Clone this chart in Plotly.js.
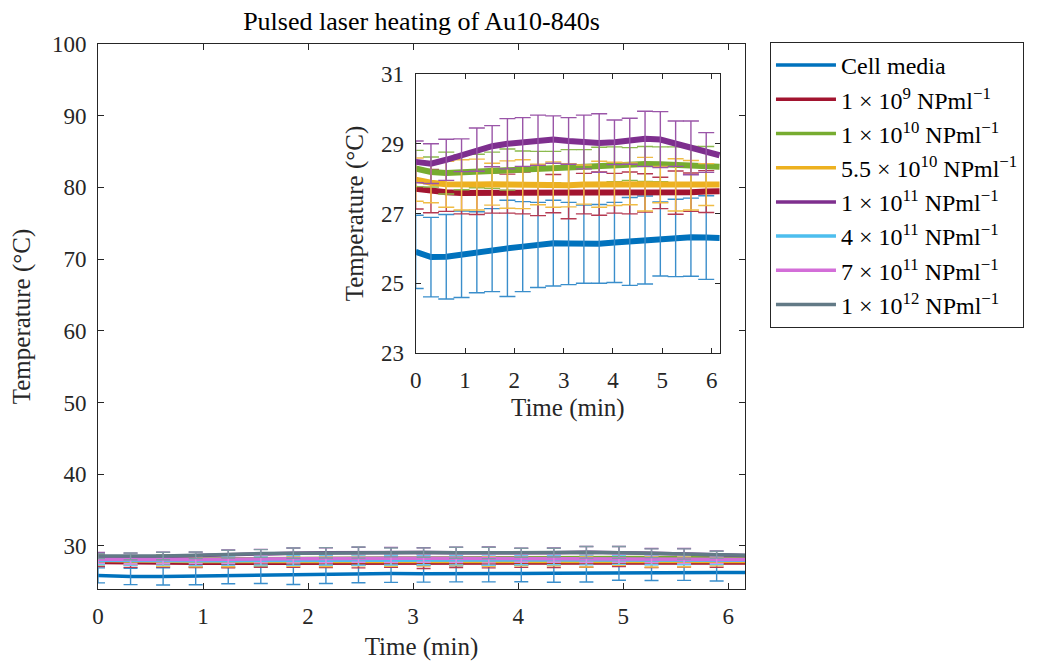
<!DOCTYPE html>
<html>
<head>
<meta charset="utf-8">
<script src="https://cdn.plot.ly/plotly-3.0.1.min.js"></script>
<style>html,body{margin:0;padding:0;background:#fff;}#chart{width:1052px;height:661px;}</style>
</head>
<body>
<div id="chart"></div>
<script>
// Time (min) at which values were read; error bars at the first 20 points
const time = [0, 0.31, 0.62, 0.93, 1.24, 1.55, 1.86, 2.17, 2.48, 2.79, 3.10, 3.41, 3.72, 4.03, 4.34, 4.65, 4.96, 5.27, 5.58, 5.89, 6.16];

const seriesNames = [
  "Cell media",
  "1 × 10<sup>9</sup> NPml<sup>−1</sup>",
  "1 × 10<sup>10</sup> NPml<sup>−1</sup>",
  "5.5 × 10<sup>10</sup> NPml<sup>−1</sup>",
  "1 × 10<sup>11</sup> NPml<sup>−1</sup>",
  "4 × 10<sup>11</sup> NPml<sup>−1</sup>",
  "7 × 10<sup>11</sup> NPml<sup>−1</sup>",
  "1 × 10<sup>12</sup> NPml<sup>−1</sup>"
];

const cellMedia    = [25.90, 25.75, 25.76, 25.83, 25.89, 25.95, 26.00, 26.05, 26.10, 26.15, 26.14, 26.12, 26.13, 26.17, 26.20, 26.24, 26.27, 26.30, 26.32, 26.31, 26.30];
const cellMediaErr = [1.05, 1.14, 1.21, 1.24, 1.16, 1.19, 1.38, 1.29, 1.22, 1.23, 1.18, 1.12, 1.13, 1.15, 1.26, 1.26, 1.06, 1.11, 1.12, 1.20];

const np1e9    = [27.71, 27.64, 27.61, 27.59, 27.59, 27.59, 27.57, 27.59, 27.59, 27.57, 27.57, 27.57, 27.57, 27.58, 27.59, 27.59, 27.59, 27.60, 27.61, 27.63, 27.64];
const np1e9Err = [0.58, 0.62, 0.55, 0.60, 0.62, 0.58, 0.56, 0.60, 0.65, 0.55, 0.72, 0.58, 0.62, 0.57, 0.60, 0.55, 0.45, 0.62, 0.55, 0.60];

const np1e10    = [28.29, 28.19, 28.16, 28.18, 28.22, 28.24, 28.26, 28.29, 28.31, 28.33, 28.33, 28.35, 28.38, 28.41, 28.42, 28.42, 28.41, 28.39, 28.37, 28.35, 28.34];
const np1e10Err = [0.52, 0.43, 0.60, 0.50, 0.48, 0.52, 0.59, 0.50, 0.47, 0.45, 0.50, 0.48, 0.52, 0.50, 0.47, 0.50, 0.50, 0.52, 0.55, 0.57];

const np55e10    = [27.97, 27.88, 27.84, 27.82, 27.83, 27.84, 27.83, 27.84, 27.83, 27.83, 27.81, 27.83, 27.84, 27.85, 27.85, 27.84, 27.83, 27.82, 27.81, 27.83, 27.83];
const np55e10Err = [0.62, 0.57, 0.66, 0.72, 0.73, 0.60, 0.68, 0.70, 0.58, 0.65, 0.62, 0.56, 0.66, 0.62, 0.60, 0.77, 0.52, 0.75, 0.71, 0.60];

const np1e11    = [28.48, 28.43, 28.54, 28.67, 28.83, 28.93, 29.00, 29.05, 29.10, 29.12, 29.08, 29.05, 29.02, 29.04, 29.07, 29.14, 29.12, 29.00, 28.88, 28.75, 28.67];
const np1e11Err = [0.60, 0.57, 0.59, 0.47, 0.62, 0.59, 0.72, 0.70, 0.72, 0.68, 0.67, 0.77, 0.84, 0.64, 0.66, 0.79, 0.80, 0.65, 0.77, 0.57];

const np4e11    = [28.00, 27.95, 27.93, 27.93, 27.95, 27.97, 28.00, 28.00, 28.02, 28.03, 28.03, 28.02, 28.02, 28.03, 28.05, 28.05, 28.05, 28.04, 28.03, 28.02, 28.02];
const np4e11Err = [0.62, 0.65, 0.60, 0.66, 0.64, 0.62, 0.68, 0.66, 0.70, 0.68, 0.65, 0.66, 0.70, 0.64, 0.66, 0.68, 0.62, 0.66, 0.64, 0.60];

const np7e11    = [28.15, 28.10, 28.08, 28.10, 28.15, 28.20, 28.25, 28.28, 28.30, 28.30, 28.30, 28.28, 28.27, 28.28, 28.30, 28.30, 28.28, 28.22, 28.15, 28.10, 28.10];
const np7e11Err = [0.55, 0.58, 0.52, 0.56, 0.58, 0.55, 0.60, 0.62, 0.58, 0.60, 0.56, 0.58, 0.62, 0.55, 0.58, 0.60, 0.57, 0.55, 0.58, 0.52];

const np1e12    = [28.60, 28.55, 28.60, 28.70, 28.85, 28.95, 29.00, 29.05, 29.08, 29.10, 29.08, 29.05, 29.03, 29.05, 29.08, 29.12, 29.10, 29.00, 28.88, 28.78, 28.70];
const np1e12Err = [0.37, 0.48, 0.52, 0.47, 0.55, 0.54, 0.72, 0.72, 0.78, 0.62, 0.65, 0.77, 0.79, 0.64, 0.61, 0.81, 0.83, 0.60, 0.72, 0.48];

const seriesValues = [cellMedia, np1e9, np1e10, np55e10, np1e11, np4e11, np7e11, np1e12];
const seriesErrors = [cellMediaErr, np1e9Err, np1e10Err, np55e10Err, np1e11Err, np4e11Err, np7e11Err, np1e12Err];
const lineColors = ["#0072BD", "#A2142F", "#77AC30", "#EDB120", "#7E2F8E", "#4DBEEE", "#D36ED8", "#627A86"];
const barColors  = ["#3A8ECB", "#B53A52", "#8BBA4E", "#F0BC45", "#9A55A8", "#6AC8F0", "#DB8ADF", "#8299A4"];
const insetCount = 5;

const FONT = "'Liberation Serif', 'DejaVu Serif', serif";
const AX = "#262626";
const nErr = 20;

const traces = [];
// main axes
seriesValues.forEach((vals, i) => {
  traces.push({
    x: time, y: vals, type: "scatter", mode: "lines", name: seriesNames[i],
    line: {color: lineColors[i], width: 3.5}, xaxis: "x", yaxis: "y"
  });
  traces.push({
    x: time.slice(0, nErr), y: vals.slice(0, nErr), type: "scatter", mode: "markers",
    marker: {size: 2, opacity: 0}, showlegend: false, hoverinfo: "skip",
    error_y: {type: "data", array: seriesErrors[i], color: barColors[i], thickness: 1.4, width: 7},
    xaxis: "x", yaxis: "y"
  });
});
// inset axes
for (let i = 0; i < insetCount; i++) {
  traces.push({
    x: time, y: seriesValues[i], type: "scatter", mode: "lines", showlegend: false,
    line: {color: lineColors[i], width: 6}, xaxis: "x2", yaxis: "y2"
  });
  traces.push({
    x: time.slice(0, nErr), y: seriesValues[i].slice(0, nErr), type: "scatter", mode: "markers",
    marker: {size: 2, opacity: 0}, showlegend: false, hoverinfo: "skip",
    error_y: {type: "data", array: seriesErrors[i], color: barColors[i], thickness: 1.4, width: 8},
    xaxis: "x2", yaxis: "y2"
  });
}

const axisBase = {
  showline: true, linecolor: AX, linewidth: 1, mirror: "ticks", ticks: "inside",
  ticklen: 6, tickcolor: AX, showgrid: false, zeroline: false,
  tickfont: {family: FONT, size: 23, color: AX}, ticklabelstandoff: 6
};

const layout = {
  width: 1052, height: 661,
  paper_bgcolor: "#ffffff", plot_bgcolor: "#ffffff",
  margin: {l: 98, r: 307, t: 44, b: 72},
  font: {family: FONT, color: AX, size: 23},
  title: {text: "Pulsed laser heating of Au10-840s", font: {family: FONT, size: 26, color: "#000"},
          x: 0.4007, xref: "container", y: 0.968, yref: "container", xanchor: "center", yanchor: "middle"},
  showlegend: true,
  legend: {
    x: 1.0386, y: 1.0037, xanchor: "left", yanchor: "top",
    bordercolor: AX, borderwidth: 1, bgcolor: "#ffffff",
    font: {family: FONT, size: 24, color: "#000"}, itemwidth: 60, traceorder: "normal"
  },
  xaxis: Object.assign({}, axisBase, {
    domain: [0, 1], range: [0, 6.16], tick0: 0, dtick: 1, anchor: "y",
    title: {text: "Time (min)", font: {family: FONT, size: 25, color: AX}, standoff: 10}
  }),
  yaxis: Object.assign({}, axisBase, {
    domain: [0, 1], range: [24, 100], tick0: 0, dtick: 10, anchor: "x",
    title: {text: "Temperature (°C)", font: {family: FONT, size: 25, color: AX}, standoff: 14}
  }),
  xaxis2: Object.assign({}, axisBase, {
    domain: [0.491, 0.9614], range: [0, 6.17], tick0: 0, dtick: 1, anchor: "y2", ticklen: 5,
    title: {text: "Time (min)", font: {family: FONT, size: 25, color: AX}, standoff: 6}
  }),
  yaxis2: Object.assign({}, axisBase, {
    domain: [0.433, 0.945], range: [23, 31], tick0: 23, dtick: 2, anchor: "x2", ticklen: 5,
    title: {text: "Temperature (°C)", font: {family: FONT, size: 25, color: AX}, standoff: 10}
  })
};

Plotly.newPlot("chart", traces, layout, {staticPlot: true, displayModeBar: false});
</script>
</body>
</html>
